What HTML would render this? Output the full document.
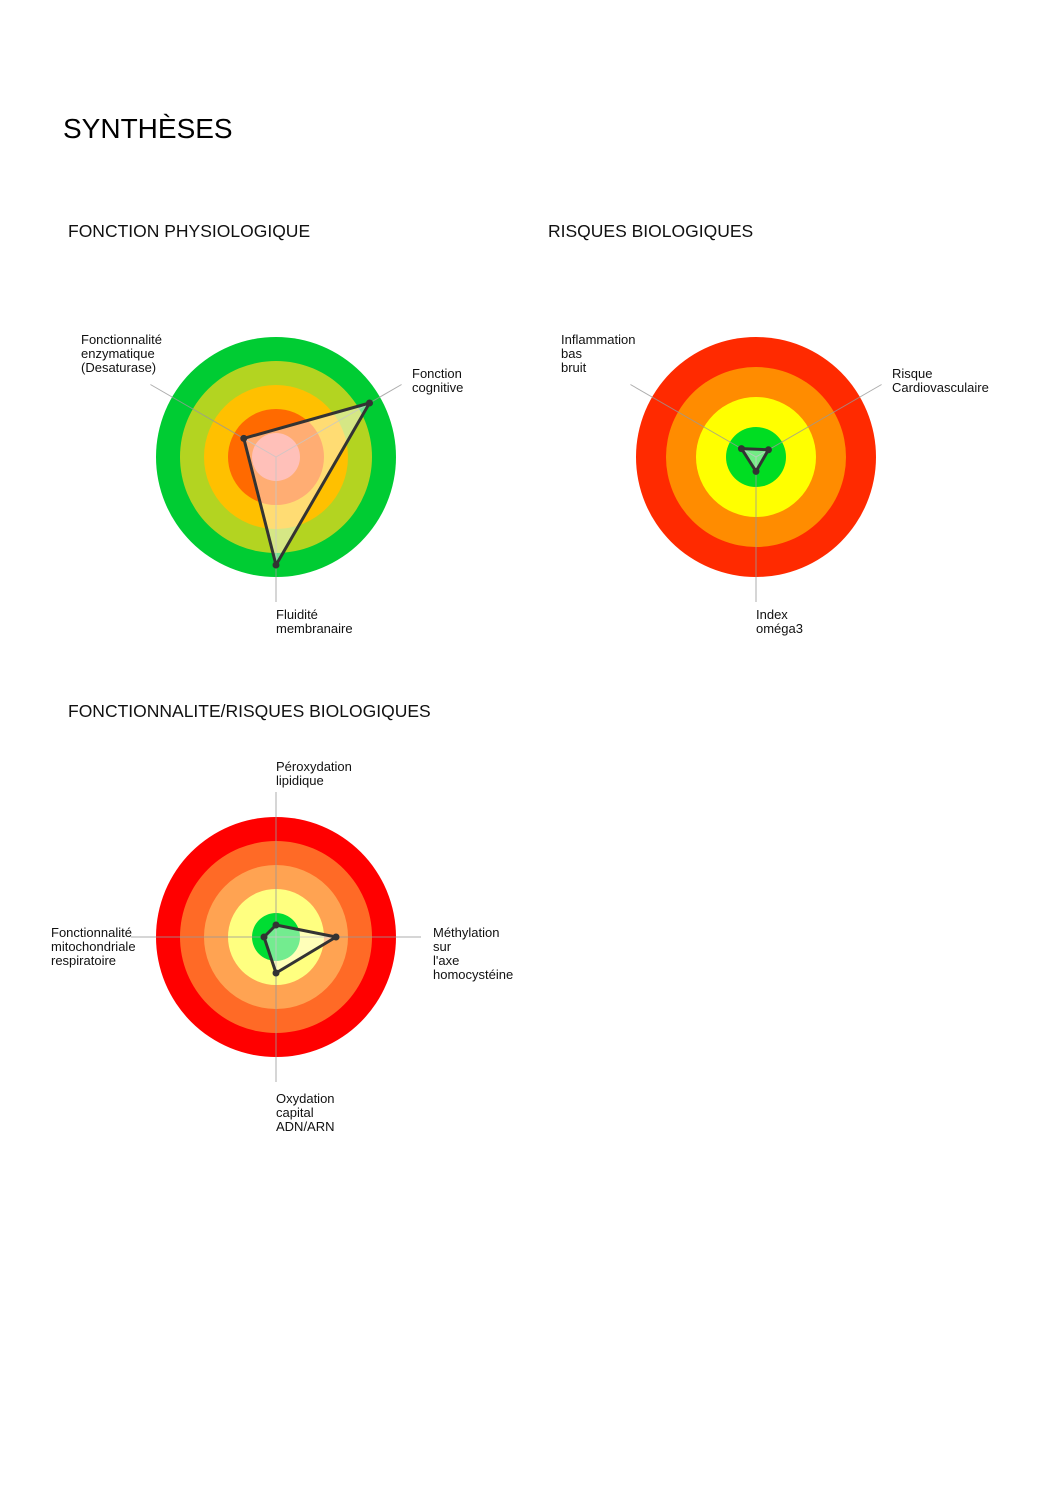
<!DOCTYPE html>
<html><head><meta charset="utf-8"><style>
html,body{margin:0;padding:0;background:#fff;}
body{width:1058px;height:1497px;position:relative;overflow:hidden;font-family:"Liberation Sans",sans-serif;}
</style></head><body>
<svg id="page" width="1058" height="1497" viewBox="0 0 1058 1497" xmlns="http://www.w3.org/2000/svg" font-family="Liberation Sans, sans-serif">
<text x="63" y="138" font-size="28" fill="#000">SYNTHÈSES</text>
<text x="68" y="237" font-size="17.5" fill="#111">FONCTION PHYSIOLOGIQUE</text>
<text x="548" y="237" font-size="17.5" fill="#111">RISQUES BIOLOGIQUES</text>
<text x="68" y="717" font-size="17.5" fill="#111">FONCTIONNALITE/RISQUES BIOLOGIQUES</text>
<g id="c1"></g>
<g id="c2"></g>
<g id="c3"></g>
</svg>
<script>
// Chart 1 data
const c1Axes = ["Fonctionnalité enzymatique (Desaturase)", "Fonction cognitive", "Fluidité membranaire"];
const c1Values = [0.31, 0.9, 0.9];
const c1Rings = ["#00cc33", "#b3d421", "#ffc000", "#ff6a00", "#ff8c80"];
// Chart 2 data
const c2Axes = ["Inflammation bas bruit", "Risque Cardiovasculaire", "Index oméga3"];
const c2Values = [0.14, 0.12, 0.12];
const c2Rings = ["#ff2a00", "#ff8c00", "#ffff00", "#00dd22"];
// Chart 3 data
const c3Axes = ["Péroxydation lipidique", "Méthylation sur l'axe homocystéine", "Oxydation capital ADN/ARN", "Fonctionnalité mitochondriale respiratoire"];
const c3Values = [0.1, 0.5, 0.3, 0.1];
const c3Rings = ["#ff0000", "#ff6a26", "#ffa352", "#ffff80", "#00dd33"];

const NS = "http://www.w3.org/2000/svg";
function mk(tag, attrs, parent){const e=document.createElementNS(NS,tag);for(const k in attrs)e.setAttribute(k,attrs[k]);parent.appendChild(e);return e;}

function radar(gid, cx, cy, R, angles, axes, values, rings, labelPos, prefix){
  const g=document.getElementById(gid);
  const n=rings.length;
  rings.forEach((col,i)=>{
    const c=mk('circle',{cx:cx,cy:cy,r:R*(n-i)/n,fill:col},g);
    
    
  });
  const rScale=v=>v*R;
  angles.forEach((a,i)=>{
    const l=mk('line',{x1:cx,y1:cy,x2:cx+145*Math.cos(a),y2:cy+145*Math.sin(a),stroke:'#999','stroke-width':1,opacity:0.8},g);
    
    
  });
  const pts=values.map((v,i)=>[cx+rScale(v)*Math.cos(angles[i]), cy+rScale(v)*Math.sin(angles[i])]);
  const poly=mk('polygon',{points:pts.map(p=>p.join(',')).join(' '),fill:'rgba(255,255,255,0.45)',stroke:'#333','stroke-width':3,'stroke-linejoin':'round'},g);
  
  
  pts.forEach((p,i)=>{
    const d=mk('circle',{cx:p[0],cy:p[1],r:3.5,fill:'#333'},g);
    
    
  });
  axes.forEach((lab,i)=>{
    const lp=labelPos[i];
    const t=mk('text',{x:lp[0],y:lp[1],'font-size':13,fill:'#111'},g);
    
    
    lp[2].forEach((line,j)=>{const ts=mk('tspan',{x:lp[0],dy:j?14:0},t);ts.textContent=line;});
  });
}
const D=Math.PI/180;
radar('c1',276,457,120,[-150*D,-30*D,90*D],c1Axes,c1Values,c1Rings,
 [[81,344,["Fonctionnalité","enzymatique","(Desaturase)"]],[412,378,["Fonction","cognitive"]],[276,619,["Fluidité","membranaire"]]],'physio');
radar('c2',756,457,120,[-150*D,-30*D,90*D],c2Axes,c2Values,c2Rings,
 [[561,344,["Inflammation","bas","bruit"]],[892,378,["Risque","Cardiovasculaire"]],[756,619,["Index","oméga3"]]],'risk');
radar('c3',276,937,120,[-90*D,0,90*D,180*D],c3Axes,c3Values,c3Rings,
 [[276,771,["Péroxydation","lipidique"]],[433,937,["Méthylation","sur","l'axe","homocystéine"]],[276,1103,["Oxydation","capital","ADN/ARN"]],[51,937,["Fonctionnalité","mitochondriale","respiratoire"]]],'func');
</script>
</body></html>
